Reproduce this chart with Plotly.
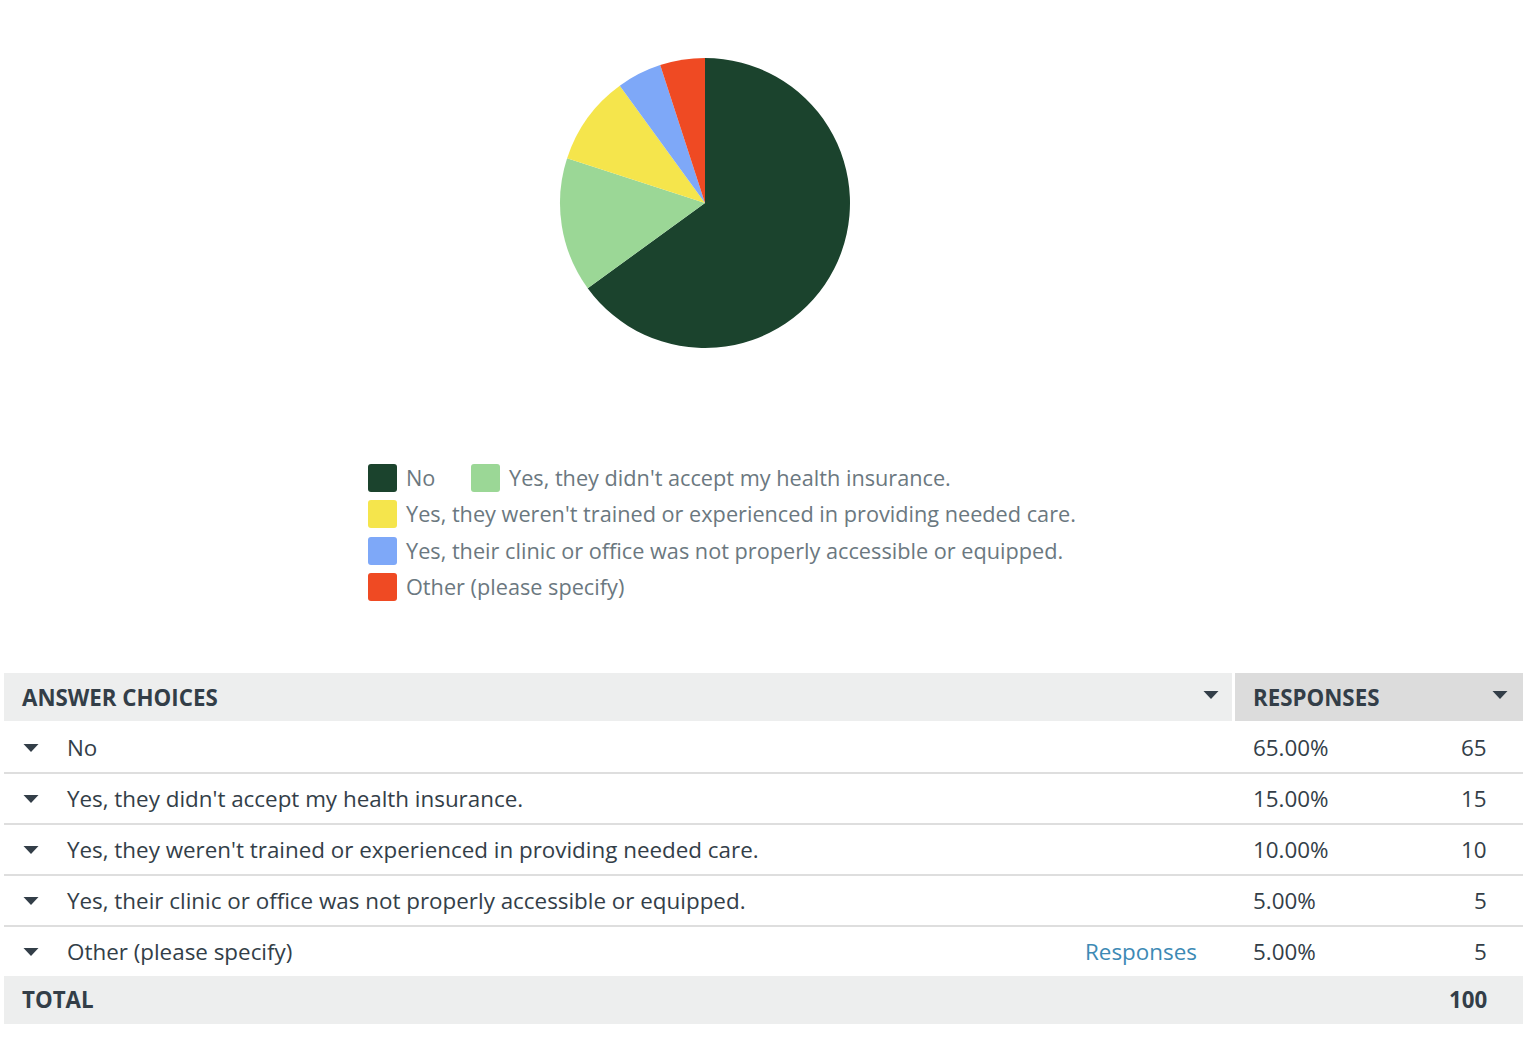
import plotly.graph_objects as go

W, H = 1536, 1039

categories = [
    "No",
    "Yes, they didn't accept my health insurance.",
    "Yes, they weren't trained or experienced in providing needed care.",
    "Yes, their clinic or office was not properly accessible or equipped.",
    "Other (please specify)",
]
counts = [65, 15, 10, 5, 5]
percent_labels = ["65.00%", "15.00%", "10.00%", "5.00%", "5.00%"]
total_count = 100
colors = ["#1b432d", "#9bd796", "#f5e54c", "#7ea8f8", "#ef4a23"]

FONT = "Open Sans"
TXT = "#333e48"
LEG_TXT = "#6b7880"
FS_LEG = 21.7
FS_TAB = 22.4
FS_HEAD = 22.3


def X(px):
    return px / W


def Y(py):
    return 1 - py / H


fig = go.Figure()

# Pie
cx, cy, r = 705, 203, 145
fig.add_trace(go.Pie(
    labels=categories,
    values=counts,
    marker=dict(colors=colors, line=dict(width=0)),
    sort=False,
    direction="clockwise",
    rotation=0,
    textinfo="none",
    hoverinfo="label+percent",
    showlegend=False,
    domain=dict(x=[X(cx - r), X(cx + r)], y=[Y(cy + r), Y(cy - r)]),
))

shapes = []
annotations = []


def rounded_rect(x0, y0, x1, y1, rad, color):
    p = (f"M {X(x0 + rad)} {Y(y0)} L {X(x1 - rad)} {Y(y0)} "
         f"Q {X(x1)} {Y(y0)} {X(x1)} {Y(y0 + rad)} L {X(x1)} {Y(y1 - rad)} "
         f"Q {X(x1)} {Y(y1)} {X(x1 - rad)} {Y(y1)} L {X(x0 + rad)} {Y(y1)} "
         f"Q {X(x0)} {Y(y1)} {X(x0)} {Y(y1 - rad)} L {X(x0)} {Y(y0 + rad)} "
         f"Q {X(x0)} {Y(y0)} {X(x0 + rad)} {Y(y0)} Z")
    shapes.append(dict(type="path", xref="paper", yref="paper", path=p,
                       fillcolor=color, line=dict(width=0)))


def text(x, y, s, size, color=TXT, anchor="left", weight="normal"):
    dx = -2 if anchor == "left" else 2
    annotations.append(dict(x=X(x + dx), y=Y(y), xref="paper", yref="paper", text=s,
                            showarrow=False, xanchor=anchor, yanchor="middle",
                            font=dict(family=FONT, size=size, color=color, weight=weight)))


def rect(x0, y0, x1, y1, color):
    shapes.append(dict(type="rect", xref="paper", yref="paper",
                       x0=X(x0), x1=X(x1), y0=Y(y1), y1=Y(y0),
                       fillcolor=color, line=dict(width=0), layer="below"))


def tri(cx_, cy_, w, h, color):
    p = (f"M {X(cx_ - w / 2)} {Y(cy_ - h / 2)} L {X(cx_ + w / 2)} {Y(cy_ - h / 2)} "
         f"L {X(cx_)} {Y(cy_ + h / 2)} Z")
    shapes.append(dict(type="path", xref="paper", yref="paper", path=p,
                       fillcolor=color, line=dict(width=0)))


# Legend (manual)
leg_pos = [(368, 478), (471, 478), (368, 514), (368, 551), (368, 587)]
for (lx, ly), lab, col in zip(leg_pos, categories, colors):
    rounded_rect(lx, ly - 14, lx + 29, ly + 14, 3, col)
    text(lx + 38, ly - 1, lab, FS_LEG, color=LEG_TXT)

# Table header
rect(4, 673, 1232, 721, "#edeeee")
rect(1235, 673, 1523, 721, "#dcdcdc")
text(22, 697, "ANSWER CHOICES", FS_HEAD, color=TXT, weight="bold")
text(1253, 697, "RESPONSES", FS_HEAD, color=TXT, weight="bold")
tri(1211, 695, 15, 8, TXT)
tri(1500, 695, 15, 8, TXT)

# Rows
row_h = 51
for i, (lab, pct, c) in enumerate(zip(categories, percent_labels, counts)):
    ymid = 748 + i * row_h
    tri(31, ymid, 15, 8, TXT)
    text(67, ymid - 1, lab, FS_TAB, color=TXT)
    text(1253, ymid - 1, pct, FS_TAB, color=TXT)
    text(1487, ymid - 1, str(c), FS_TAB, color=TXT, anchor="right")
    if i < len(categories) - 1:
        shapes.append(dict(type="line", xref="paper", yref="paper",
                           x0=X(4), x1=X(1523), y0=Y(ymid + 25), y1=Y(ymid + 25),
                           line=dict(color="#d3d3d3", width=1.5)))
    if lab.startswith("Other"):
        text(1197, ymid - 1, "Responses", FS_TAB, color="#3d8ab5", anchor="right")

# Total
rect(4, 976, 1523, 1024, "#edeeee")
text(22, 999, "TOTAL", FS_HEAD, color=TXT, weight="bold")
text(1487, 999, str(total_count), FS_HEAD, color=TXT, anchor="right", weight="bold")

fig.update_layout(
    width=W, height=H,
    margin=dict(l=0, r=0, t=0, b=0),
    paper_bgcolor="white",
    plot_bgcolor="white",
    shapes=shapes,
    annotations=annotations,
    showlegend=False,
)

fig.write_html("out.html")
